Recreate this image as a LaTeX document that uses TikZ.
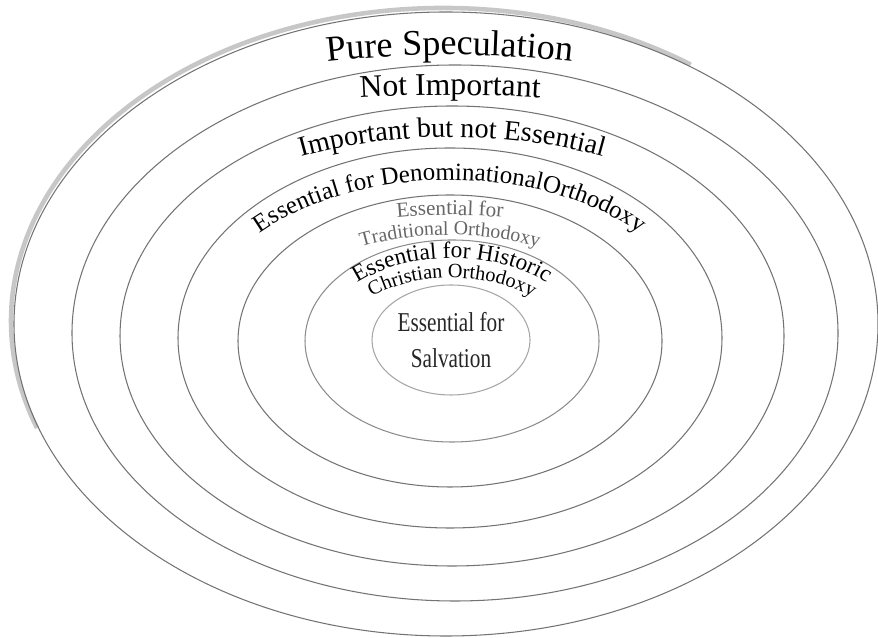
\documentclass[tikz,border=0pt]{standalone}
\usepackage{fontspec}
\setmainfont{Liberation Serif}
\newfontfamily\ringserif{Liberation Serif}
\newfontfamily\narrowserif[FakeStretch=0.78]{Liberation Serif}
\usetikzlibrary{decorations.text}
\newcommand{\fsz}[1]{\ringserif\fontsize{#1}{#1}\selectfont}

\begin{document}
\begin{tikzpicture}[
    x=0.02cm, y=0.02cm,
    ring/.style={draw=black!55, line width=0.6pt},
    curved/.style={decorate, decoration={text along path, text align=center, #1}}
]
  \useasboundingbox (0,0) rectangle (878,638);

  % =========================================================================
  % RINGS (OUTSIDE IN)
  % =========================================================================
  \draw[black!22, line width=2.6pt] (443,317) ++(55:432 and 313)
    arc[start angle=55, end angle=200, x radius=432, y radius=313];
  \draw[ring] (446,314) ellipse [x radius=432, y radius=312];
  \draw[ring] (455,305) ellipse [x radius=383, y radius=268];
  \draw[ring] (452,302) ellipse [x radius=332, y radius=230];
  \draw[ring] (450,300) ellipse [x radius=272, y radius=190];
  \draw[ring] (450,297) ellipse [x radius=212, y radius=146];
  \draw[ring, draw=black!45] (452,297) ellipse [x radius=147, y radius=101];
  \draw[ring, draw=black!35] (451,298) ellipse [x radius=79, y radius=55];

  % =========================================================================
  % CURVED LABELS
  % =========================================================================
  \path[curved={text={|\fsz{20.5}|Pure Speculation}}]
    (-110,305) arc[start angle=180, end angle=0, x radius=560, y radius=278];
  \path[curved={text={|\fsz{18}|Not Important}}]
    (-150,305) arc[start angle=180, end angle=0, x radius=600, y radius=238];
  \path[curved={text={|\fsz{16}|Important but not Essential}}]
    (107,302) arc[start angle=180, end angle=0, x radius=345, y radius=199];
  \path[curved={text={|\fsz{14.2}|Essential for DenominationalOrthodoxy}}]
    (196,300) arc[start angle=180, end angle=0, x radius=254, y radius=158];

  \path[curved={text color=black!60, text={|\fsz{12}|Essential for}}]
    (190,297) arc[start angle=180, end angle=0, x radius=260, y radius=126];
  \path[curved={text color=black!60, text={|\fsz{11.3}|Traditional Orthodoxy}}]
    (259,297) arc[start angle=180, end angle=0, x radius=191, y radius=106];

  \path[curved={text={|\fsz{13.3}|Essential for Historic}}]
    (320,297) arc[start angle=180, end angle=0, x radius=132, y radius=83];
  \path[curved={text={|\fsz{11.5}|Christian Orthodoxy}}]
    (340,297) arc[start angle=180, end angle=0, x radius=112, y radius=63];

  % centre
  \node[align=center, font=\narrowserif\fontsize{15.5}{20}\selectfont, text=black!85] (salv) at (451,298) {Essential for\\Salvation};

\end{tikzpicture}
\end{document}
